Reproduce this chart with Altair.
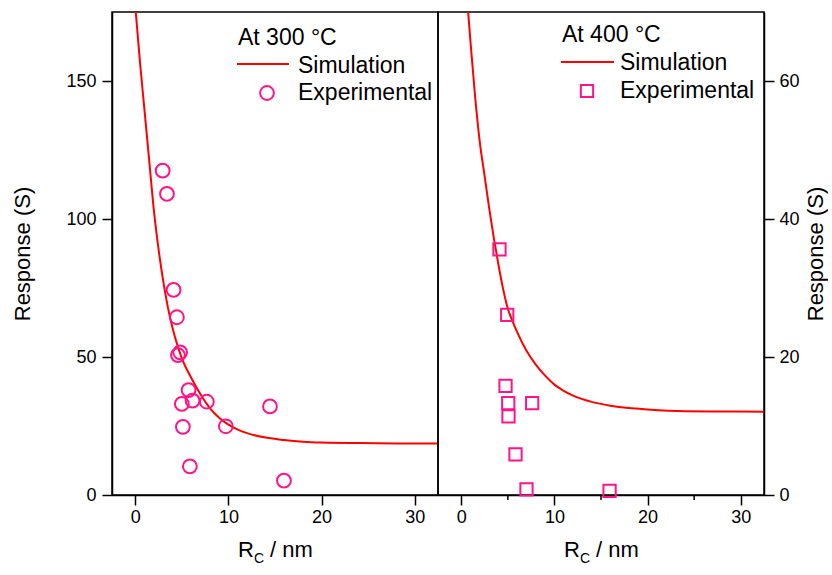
import altair as alt
import pandas as pd

# ---------------- data ----------------
# 300 C panel
sim300_x = [0.0, 0.5, 1.0, 1.5, 2.0, 2.5, 3.0, 3.5, 4.0, 4.5, 5.0, 6.0, 7.0, 8.0,
            9.0, 10.0, 11.0, 12.0, 14.0, 16.0, 18.0, 20.0, 24.0, 28.0, 32.5]
sim300_y = [177, 157, 139, 121, 103, 89, 77.5, 68, 60.5, 54.5, 49.5, 42.5, 36.5, 31.5,
            28, 25.5, 23.7, 22.4, 20.8, 19.9, 19.3, 19.0, 18.8, 18.7, 18.7]
exp300_x = [2.94, 3.40, 4.11, 4.47, 4.58, 4.82, 5.72, 5.00, 6.15, 7.68, 14.46, 5.11, 9.72, 5.86, 15.96]
exp300_y = [117.5, 109.1, 74.3, 64.4, 50.7, 51.7, 38.0, 33.0, 34.2, 33.8, 32.1, 24.7, 24.9, 10.4, 5.2]

# 400 C panel
sim400_x = [0.5, 1.0, 1.5, 2.0, 2.5, 3.0, 3.5, 4.0, 4.5, 5.0, 5.5, 6.0, 7.0, 8.0,
            9.0, 10.0, 11.0, 12.0, 14.0, 16.0, 18.0, 20.0, 24.0, 28.0, 32.5]
sim400_y = [74, 65.5, 57.5, 51, 46.3, 41.5, 37.2, 33.3, 29.8, 27.0, 25.2, 23.6, 20.9, 18.9,
            17.3, 16.0, 15.1, 14.4, 13.5, 12.95, 12.6, 12.4, 12.15, 12.1, 12.07]
exp400_x = [4.10, 4.93, 4.75, 5.04, 7.61, 5.07, 5.82, 7.00, 15.92]
exp400_y = [35.6, 26.1, 15.8, 13.3, 13.3, 11.4, 5.9, 0.8, 0.6]

x_ticks = [0, 10, 20, 30]
x_minor_ticks = [5, 15, 25]
y_ticks_300 = [0, 50, 100, 150]
y_ticks_400 = [0, 20, 40, 60]

legend_title_300 = "At 300 °C"
legend_title_400 = "At 400 °C"
legend_labels = ["Simulation", "Experimental"]
y_title = "Response (S)"

# ---------------- styling ----------------
W, H = 326, 483
FONT = "Liberation Sans"
RED = "#ff0000"
PINK = "#ff148c"
X_DOMAIN = [-2.5, 32.5]


def one(v):
    return pd.DataFrame({"t": [v]})


def panel(sx, sy, ex, ey, ydom, yticks, yorient, shape, msize, title, lg, minor):
    xs = alt.Scale(domain=X_DOMAIN, nice=False, zero=False)
    ys = alt.Scale(domain=ydom, nice=False, zero=False)
    xaxis = alt.Axis(values=x_ticks, title=None, grid=False, tickSize=10,
                     labelPadding=3, format="d")
    if yorient == "left":
        yaxis = alt.Axis(orient="left", values=yticks, title=y_title, grid=False,
                         tickSize=10, labelPadding=6, titleAngle=270,
                         titlePadding=31, format="d")
    else:
        yaxis = alt.Axis(orient="right", values=yticks, title=y_title, grid=False,
                         tickSize=10, labelPadding=5, titleAngle=270,
                         titleBaseline="top", titlePadding=6, format="d")

    sim = pd.DataFrame({"x": sx, "y": sy})
    exp = pd.DataFrame({"x": ex, "y": ey})

    line = alt.Chart(sim).mark_line(color=RED, strokeWidth=2, clip=True,
                                     interpolate="monotone").encode(
        x=alt.X("x:Q", scale=xs, axis=xaxis),
        y=alt.Y("y:Q", scale=ys, axis=yaxis),
    )
    pts = alt.Chart(exp).mark_point(shape=shape, filled=False, color=PINK,
                                    size=msize, strokeWidth=2, opacity=1).encode(
        x=alt.X("x:Q", scale=xs),
        y=alt.Y("y:Q", scale=ys),
    )
    layers = [line, pts]

    if minor:
        mdf = pd.DataFrame({"x": x_minor_ticks})
        layers.append(
            alt.Chart(mdf).mark_rule(color="black", strokeWidth=1.5).encode(
                x=alt.X("x:Q", scale=xs),
                y=alt.value(H), y2=alt.value(H + 5),
            )
        )

    # legend block
    tx, ty, lx1, lx2, ly, mx, my, lbx, l1y, l2y = lg
    txt = dict(font=FONT, fontSize=23, color="black", align="left", baseline="alphabetic")
    layers.append(alt.Chart(one(title)).mark_text(**txt).encode(
        text="t:N", x=alt.value(tx), y=alt.value(ty)))
    layers.append(alt.Chart(one(0)).mark_rule(color=RED, strokeWidth=2).encode(
        x=alt.value(lx1), x2=alt.value(lx2), y=alt.value(ly)))
    layers.append(alt.Chart(one(0)).mark_point(shape=shape, filled=False, color=PINK,
                                               size=msize, strokeWidth=2, opacity=1).encode(
        x=alt.value(mx), y=alt.value(my)))
    layers.append(alt.Chart(one(legend_labels[0])).mark_text(**txt).encode(
        text="t:N", x=alt.value(lbx), y=alt.value(l1y)))
    layers.append(alt.Chart(one(legend_labels[1])).mark_text(**txt).encode(
        text="t:N", x=alt.value(lbx), y=alt.value(l2y)))

    # x axis title  R_C / nm  (with subscript)
    c = W / 2
    layers.append(alt.Chart(one("R")).mark_text(font=FONT, fontSize=22, color="black",
                                                 align="right", baseline="alphabetic").encode(
        text="t:N", x=alt.value(c - 21), y=alt.value(H + 62)))
    layers.append(alt.Chart(one("C")).mark_text(font=FONT, fontSize=14, color="black",
                                                 align="left", baseline="alphabetic").encode(
        text="t:N", x=alt.value(c - 21), y=alt.value(H + 68)))
    layers.append(alt.Chart(one("/ nm")).mark_text(font=FONT, fontSize=22, color="black",
                                                    align="left", baseline="alphabetic").encode(
        text="t:N", x=alt.value(c - 5), y=alt.value(H + 62)))

    return alt.layer(*layers).properties(width=W, height=H)


left = panel(sim300_x, sim300_y, exp300_x, exp300_y, [0, 175], y_ticks_300, "left",
             "circle", 190, legend_title_300,
             (126, 33, 125, 177, 52, 155, 81, 186, 61, 88), False)
right = panel(sim400_x, sim400_y, exp400_x, exp400_y, [0, 70], y_ticks_400, "right",
              "square", 150, legend_title_400,
              (124, 30, 123, 176, 50, 149, 79, 182, 58, 86), True)

chart = alt.hconcat(left, right, spacing=0).resolve_scale(y="independent").properties(
    bounds="flush",
    padding={"left": 11, "top": 11, "right": 1, "bottom": 2},
    background="white",
).configure_view(
    stroke="black", strokeWidth=1.5
).configure_axis(
    domainColor="black", domainWidth=1.5, tickColor="black", tickWidth=1.5,
    labelFont=FONT, labelFontSize=18, labelColor="black",
    titleFont=FONT, titleFontSize=22, titleFontWeight="normal", titleColor="black",
)

chart.save("out.html", embed_options={"renderer": "svg", "actions": False})
